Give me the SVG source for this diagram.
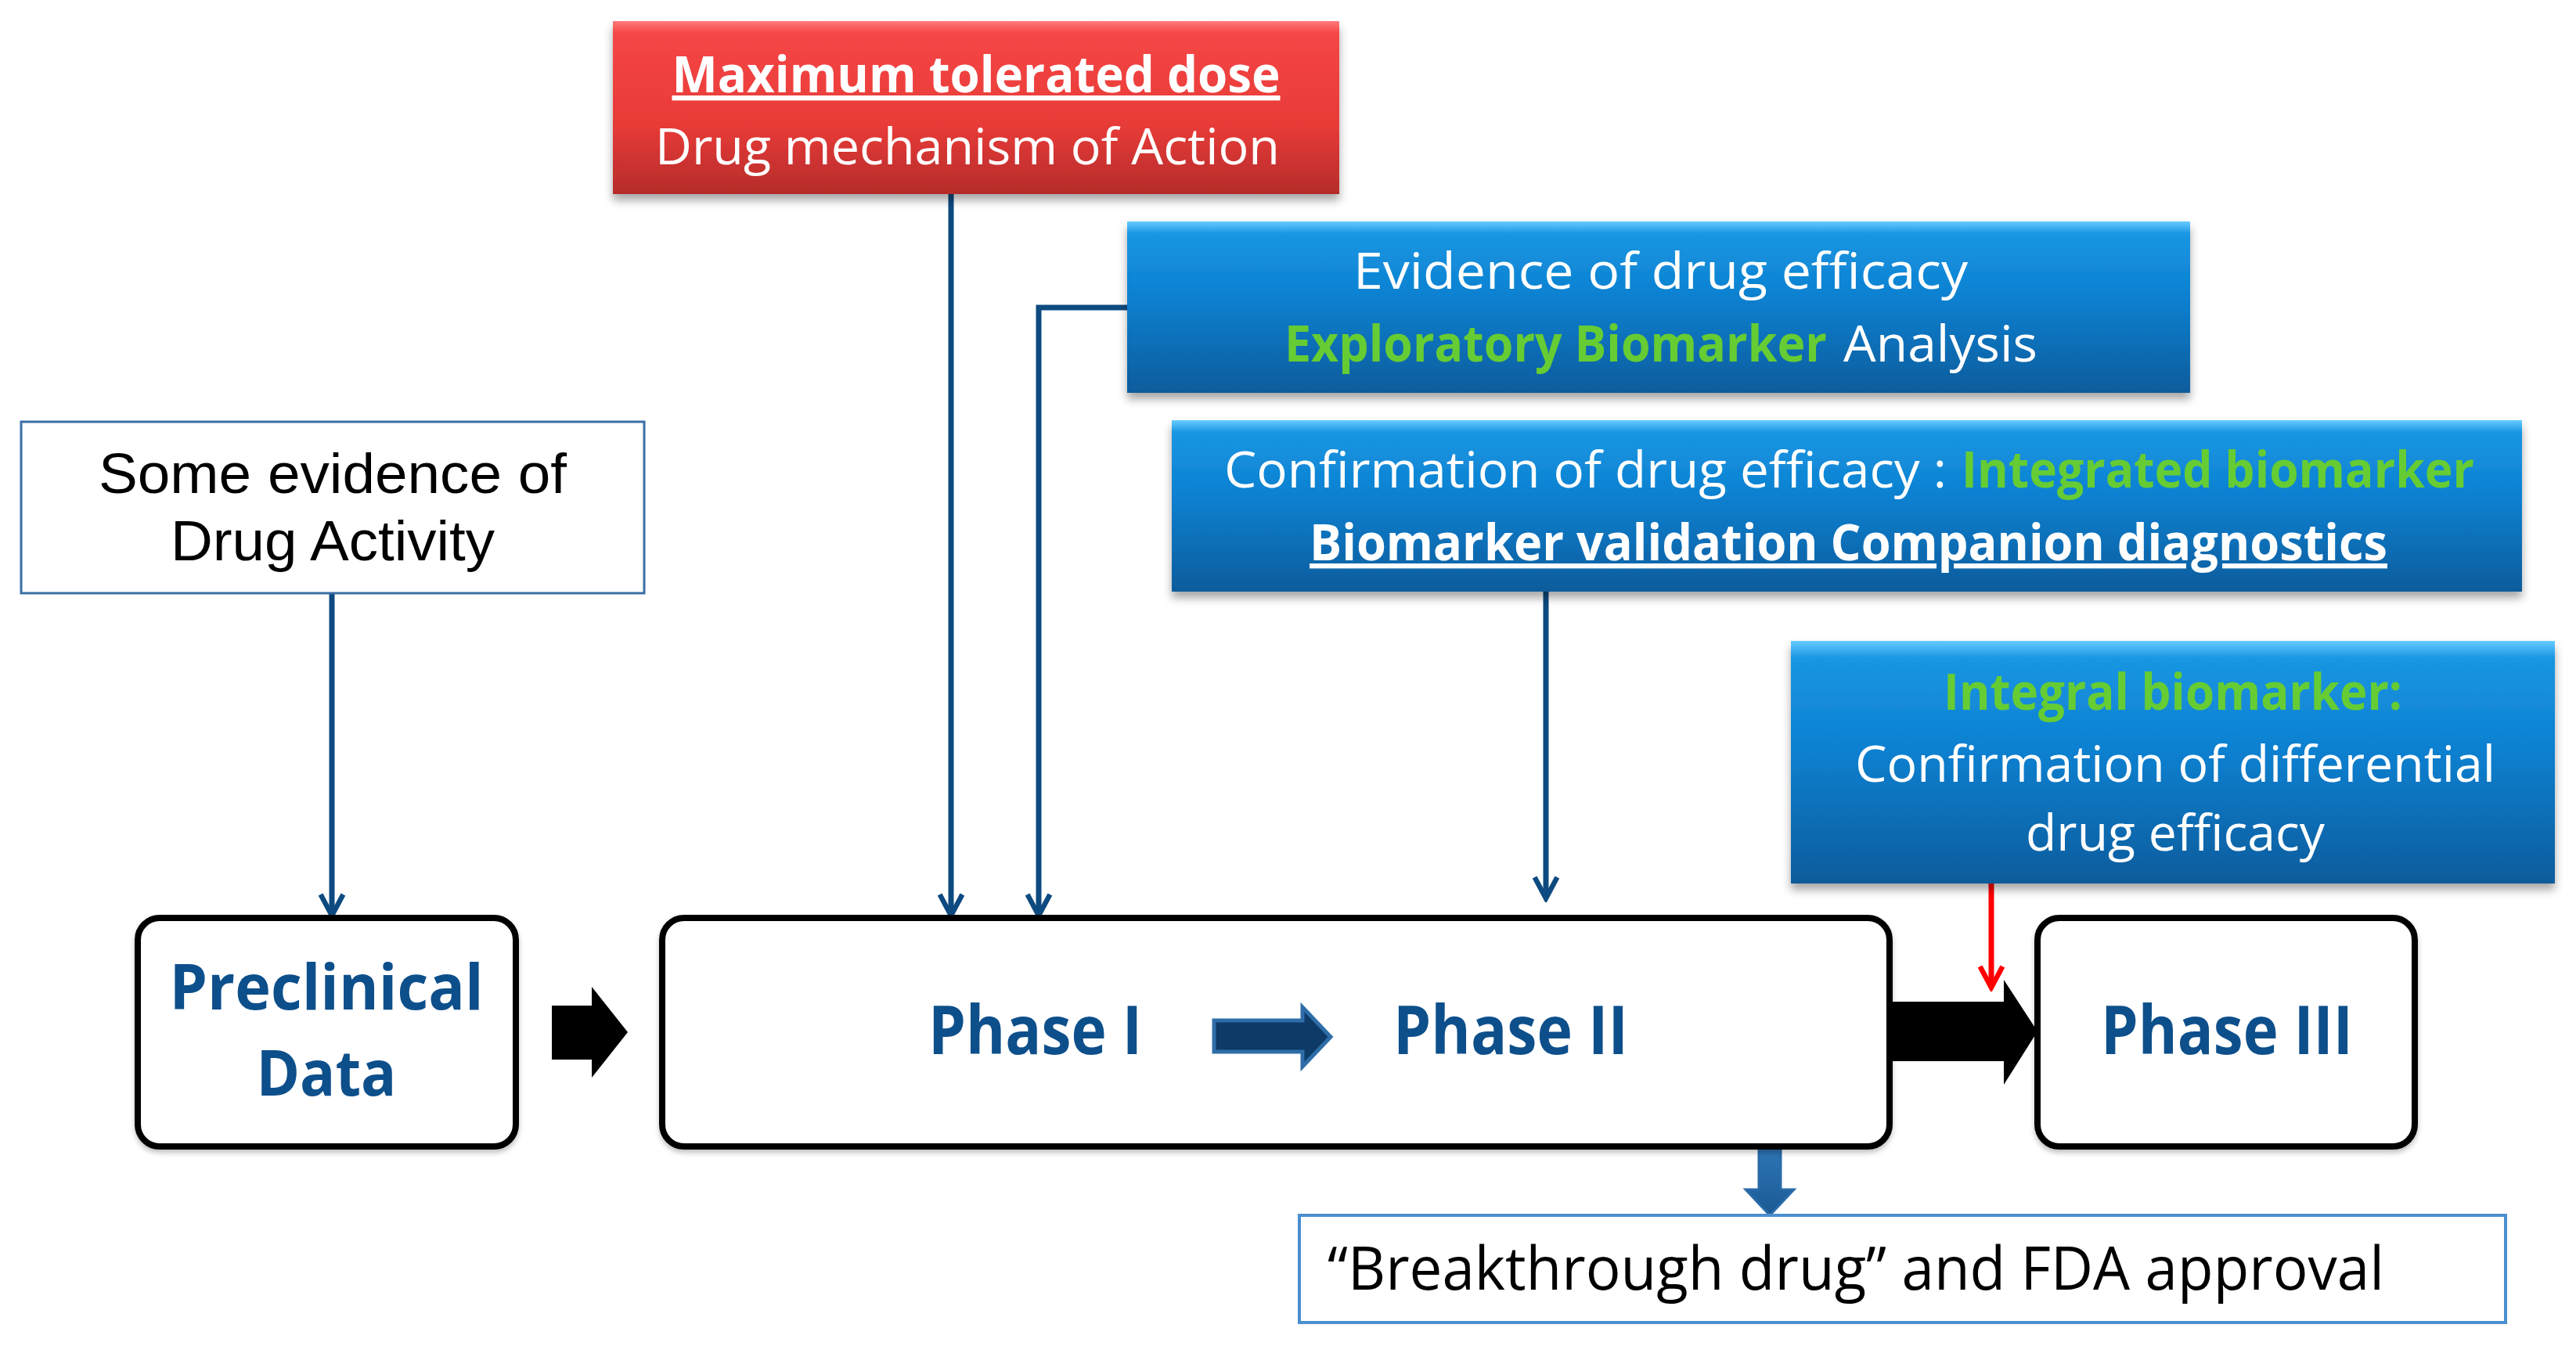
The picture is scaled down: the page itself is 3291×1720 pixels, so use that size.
<svg xmlns="http://www.w3.org/2000/svg" width="3291" height="1720" viewBox="0 0 3291 1720">
<defs>
<style>
.t{font-family:"Open Sans","Noto Sans","Liberation Sans",sans-serif;font-size:64px;fill:#fff}
.b{font-weight:bold}
.g{fill:#66cc33}
.ph{font-family:"Open Sans","Noto Sans","Liberation Sans",sans-serif;font-weight:bold;font-size:86px;fill:#0d4f8b}
.pc{font-size:80px}
.ar{font-family:"Liberation Sans",Arial,sans-serif;font-size:72px;fill:#000}
.stage{fill:#fff;stroke:#000;stroke-width:8}
.con{fill:none;stroke:#0d4a80;stroke-width:7}
</style>
<linearGradient id="gRed" x1="0" y1="0" x2="0" y2="1">
<stop offset="0" stop-color="#ff7a7a"/>
<stop offset="0.07" stop-color="#f54646"/>
<stop offset="0.6" stop-color="#e83b38"/>
<stop offset="1" stop-color="#b52c2a"/>
</linearGradient>
<linearGradient id="gBlue" x1="0" y1="0" x2="0" y2="1">
<stop offset="0" stop-color="#66ccff"/>
<stop offset="0.07" stop-color="#1a96e2"/>
<stop offset="0.45" stop-color="#0b80d0"/>
<stop offset="1" stop-color="#0b5c9c"/>
</linearGradient>
<linearGradient id="gArr" x1="0" y1="0" x2="0" y2="1">
<stop offset="0" stop-color="#2e75b6"/>
<stop offset="1" stop-color="#1a5a94"/>
</linearGradient>
<filter id="sh" x="-5%" y="-10%" width="110%" height="130%">
<feDropShadow dx="0" dy="8" stdDeviation="6" flood-color="#000" flood-opacity="0.35"/>
</filter>
<filter id="sh2" x="-5%" y="-10%" width="110%" height="130%">
<feDropShadow dx="0" dy="4" stdDeviation="3" flood-color="#000" flood-opacity="0.25"/>
</filter>
<marker id="mB" viewBox="0 0 20 20" refX="17" refY="10" markerWidth="36" markerHeight="36" markerUnits="userSpaceOnUse" orient="auto">
<path d="M2,2 L17,10 L2,18" fill="none" stroke="#0d4a80" stroke-width="3.6"/>
</marker>
<marker id="mR" viewBox="0 0 20 20" refX="17" refY="10" markerWidth="36" markerHeight="36" markerUnits="userSpaceOnUse" orient="auto">
<path d="M2,2 L17,10 L2,18" fill="none" stroke="#ff0000" stroke-width="3.6"/>
</marker>
</defs>
<rect width="3291" height="1720" fill="#fff"/>

<g id="connectors">
<path class="con" d="M424,758 V1170" marker-end="url(#mB)"/>
<path class="con" d="M1215,248 V1170" marker-end="url(#mB)"/>
<path class="con" d="M1440,393 H1327 V1170" marker-end="url(#mB)"/>
<path class="con" d="M1975,756 V1148" marker-end="url(#mB)"/>
<path fill="none" stroke="#ff0000" stroke-width="7" d="M2544,1129 V1262" marker-end="url(#mR)"/>
<polygon fill="#000" points="705,1285 756,1285 756,1261 802,1319 756,1377 756,1354 705,1354"/>
<polygon fill="#000" points="2405,1280 2560,1280 2560,1252 2603,1318 2560,1386 2560,1356 2405,1356"/>
<polygon fill="url(#gArr)" stroke="#2a6aa8" stroke-width="3" points="2247,1465 2275,1465 2275,1520 2292,1520 2261,1553 2230,1520 2247,1520"/>
</g>

<g id="stage-preclinical">
<rect class="stage" x="176" y="1173" width="483" height="292" rx="28" filter="url(#sh2)"/>
<text class="ph pc" x="417" y="1290" text-anchor="middle" textLength="401" lengthAdjust="spacingAndGlyphs">Preclinical</text>
<text class="ph pc" x="417" y="1400" text-anchor="middle" textLength="179" lengthAdjust="spacingAndGlyphs">Data</text>
</g>

<g id="stage-phase12">
<rect class="stage" x="846" y="1173" width="1568" height="292" rx="28" filter="url(#sh2)"/>
<text class="ph" x="1186" y="1347" textLength="273" lengthAdjust="spacingAndGlyphs">Phase I</text>
<polygon fill="#0d3a66" stroke="#2e6da8" stroke-width="5" points="1551,1304 1664,1304 1664,1287 1700,1325 1664,1363 1664,1344 1551,1344"/>
<text class="ph" x="1780" y="1347" textLength="300" lengthAdjust="spacingAndGlyphs">Phase II</text>
</g>

<g id="stage-phase3">
<rect class="stage" x="2603" y="1173" width="482" height="292" rx="28" filter="url(#sh2)"/>
<text class="ph" x="2684" y="1347" textLength="322" lengthAdjust="spacingAndGlyphs">Phase III</text>
</g>

<g id="note-mtd">
<rect x="783" y="27" width="928" height="221" fill="url(#gRed)" filter="url(#sh)"/>
<text class="t b" x="1247" y="118" text-anchor="middle" text-decoration="underline" textLength="777" lengthAdjust="spacingAndGlyphs">Maximum tolerated dose</text>
<text class="t" x="1236" y="210" text-anchor="middle" textLength="798" lengthAdjust="spacingAndGlyphs">Drug mechanism of Action</text>
</g>

<g id="note-evidence">
<rect x="1440" y="283" width="1358" height="219" fill="url(#gBlue)" filter="url(#sh)"/>
<text class="t" x="1729" y="369" textLength="785" lengthAdjust="spacingAndGlyphs">Evidence of  drug  efficacy</text>
<text class="t b g" x="1641" y="462" textLength="693" lengthAdjust="spacingAndGlyphs">Exploratory Biomarker</text>
<text class="t" x="2355" y="462" textLength="248" lengthAdjust="spacingAndGlyphs">Analysis</text>
</g>

<g id="note-confirmation">
<rect x="1497" y="537" width="1725" height="219" fill="url(#gBlue)" filter="url(#sh)"/>
<text class="t" x="1564" y="623" textLength="923" lengthAdjust="spacingAndGlyphs">Confirmation of drug efficacy :</text>
<text class="t b g" x="2506" y="623" textLength="655" lengthAdjust="spacingAndGlyphs">Integrated biomarker</text>
<text class="t b" x="1673" y="716" text-decoration="underline" textLength="1377" lengthAdjust="spacingAndGlyphs">Biomarker validation  Companion  diagnostics</text>
</g>

<g id="note-integral">
<rect x="2288" y="819" width="976" height="310" fill="url(#gBlue)" filter="url(#sh)"/>
<text class="t b g" x="2483" y="907" textLength="586" lengthAdjust="spacingAndGlyphs">Integral biomarker:</text>
<text class="t" x="2370" y="999" textLength="818" lengthAdjust="spacingAndGlyphs">Confirmation of differential</text>
<text class="t" x="2588" y="1087" textLength="382" lengthAdjust="spacingAndGlyphs">drug efficacy</text>
</g>

<g id="note-activity">
<rect x="27" y="539" width="796" height="219" fill="#fff" stroke="#3b6ea5" stroke-width="3"/>
<text class="ar" x="126" y="630" textLength="598" lengthAdjust="spacingAndGlyphs">Some evidence of</text>
<text class="ar" x="218" y="716" textLength="414" lengthAdjust="spacingAndGlyphs">Drug Activity</text>
</g>

<g id="note-breakthrough">
<rect x="1660" y="1553" width="1541" height="137" fill="#fff" stroke="#4a8fd0" stroke-width="4"/>
<text class="t" style="fill:#000;font-size:76px" x="1696" y="1648" textLength="1350" lengthAdjust="spacingAndGlyphs">“Breakthrough drug” and FDA approval</text>
</g>
</svg>
